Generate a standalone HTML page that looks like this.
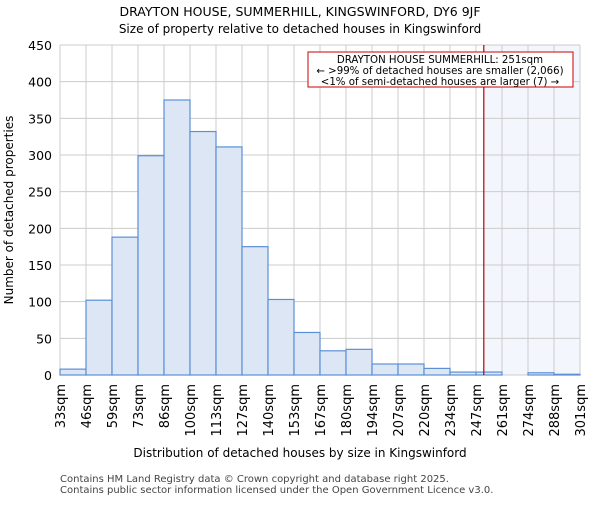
<!DOCTYPE html>
<html><head><meta charset="utf-8"><style>
body{margin:0;background:#fff}
svg{font-family:"DejaVu Sans","Liberation Sans",sans-serif}
</style></head><body>
<svg id="c" width="600" height="500">
<text x="300" y="16" text-anchor="middle" font-size="12.5">DRAYTON HOUSE, SUMMERHILL, KINGSWINFORD, DY6 9JF</text>
<text x="300" y="33" text-anchor="middle" font-size="12">Size of property relative to detached houses in Kingswinford</text>
<g id="grid"></g><g id="bars"></g><g id="axes"></g>
<text x="300" y="457" text-anchor="middle" font-size="12">Distribution of detached houses by size in Kingswinford</text>
<text transform="translate(13,210) rotate(-90)" text-anchor="middle" font-size="12">Number of detached properties</text>
<text x="60" y="482" font-size="10" fill="#444">Contains HM Land Registry data © Crown copyright and database right 2025.</text>
<text x="60" y="493" font-size="10" fill="#444">Contains public sector information licensed under the Open Government Licence v3.0.</text>
</svg>
<script>
const categories=["33sqm","46sqm","59sqm","73sqm","86sqm","100sqm","113sqm","127sqm","140sqm","153sqm","167sqm","180sqm","194sqm","207sqm","220sqm","234sqm","247sqm","261sqm","274sqm","288sqm","301sqm"];
const counts=[8,102,188,299,375,332,311,175,103,58,33,35,15,15,9,4,4,0,3,1];
const yTicks=[0,50,100,150,200,250,300,350,400,450];
const markerBin=16.3;
const ns="http://www.w3.org/2000/svg";
const L=60,R=580,T=45,B=375,bw=(R-L)/counts.length;
const xs=i=>L+i*bw, ys=v=>B-v*(B-T)/450;
function mk(p,t,a){const e=document.createElementNS(ns,t);for(const k in a)e.setAttribute(k,a[k]);document.getElementById(p).appendChild(e);return e;}
const mx=xs(markerBin);
let e=mk("grid","rect",{x:mx,y:T,width:R-mx,height:B-T,fill:"#f3f6fd"});


yTicks.forEach(v=>{let g=mk("grid","line",{x1:L,x2:R,y1:ys(v),y2:ys(v),stroke:"#ccc"});


let t=mk("axes","text",{x:L-8,y:ys(v)+5,"text-anchor":"end","font-size":"12.5"});t.textContent=v;

});
categories.forEach((c,i)=>{let g=mk("grid","line",{x1:xs(i),x2:xs(i),y1:T,y2:B,stroke:"#ccc"});


let t=mk("axes","text",{transform:`translate(${xs(i)+5},384) rotate(-90)`,"text-anchor":"end","font-size":"13"});t.textContent=c;

});
counts.forEach((v,i)=>{let b=mk("bars","rect",{x:xs(i),y:ys(v),width:bw,height:B-ys(v),fill:"#dce6f4",stroke:"#5b8fd6","stroke-width":1.2});

});
e=mk("axes","line",{x1:mx,x2:mx,y1:T,y2:B,stroke:"#b00","stroke-width":1.2});


e=mk("axes","rect",{x:308,y:52,width:265,height:35,fill:"#fff",stroke:"#c00","stroke-width":1});


[["DRAYTON HOUSE SUMMERHILL: 251sqm",63],["← >99% of detached houses are smaller (2,066)",74],["<1% of semi-detached houses are larger (7) →",85]].forEach(([s,y])=>{let t=mk("axes","text",{x:440,y:y,"text-anchor":"middle","font-size":"10.2"});t.textContent=s;

});
</script>
</body></html>
